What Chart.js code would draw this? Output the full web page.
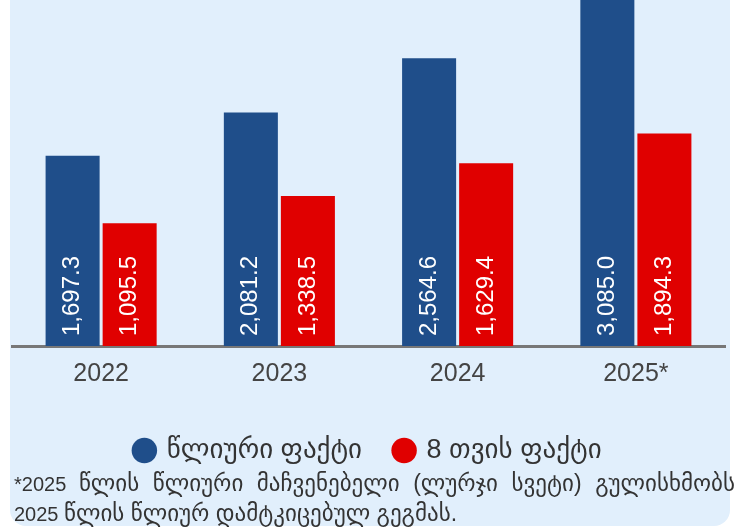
<!DOCTYPE html>
<html>
<head>
<meta charset="utf-8">
<script src="https://cdn.jsdelivr.net/npm/chart.js@4.4.0/dist/chart.umd.min.js"></script>
<style>
  html, body { margin: 0; padding: 0; background: #ffffff; }
  body { width: 742px; height: 528px; position: relative; overflow: hidden; font-family: "Liberation Sans", Arial, "DejaVu Sans", sans-serif; }
  .fond { position: absolute; left: 10px; top: 0; width: 720px; height: 526px; background: #e1effc; border-radius: 0 0 16px 16px; }
  .graph { position: absolute; left: 0; top: 0; width: 742px; height: 474px; }
  .note { position: absolute; left: 14px; width: 721px; font-size: 20px; line-height: 30px; color: #333; white-space: nowrap; }
  .note .ka { font-size: 23px; }
  .l1 { top: 468px; text-align: justify; text-align-last: justify; white-space: normal; }
  .l2 { top: 498px; }
</style>
</head>
<body>
<div class="fond"></div>
<div class="graph"><canvas id="monGraphique"></canvas></div>
<div class="note l1">*2025 <span class="ka">წლის წლიური მაჩვენებელი (ლურჯი სვეტი) გულისხმობს</span></div>
<div class="note l2">2025 <span class="ka">წლის წლიურ დამტკიცებულ გეგმას.</span></div>
<script>
// Données
const annees = ['2022', '2023', '2024', '2025*'];
const factAnnuel = [1697.3, 2081.2, 2564.6, 3085.0];
const fact8Mois = [1095.5, 1338.5, 1629.4, 1894.3];
const legendes = ['წლიური ფაქტი', '8 თვის ფაქტი'];

// Valeurs écrites à la verticale dans les barres
const etiquettes = {
    id: 'etiquettes',
    afterDatasetsDraw(chart) {
        const ctx = chart.ctx;
        chart.data.datasets.forEach(function(ds, i) {
            chart.getDatasetMeta(i).data.forEach(function(bar, j) {
                const txt = ds.data[j].toLocaleString('en-US', { minimumFractionDigits: 1, maximumFractionDigits: 1 });
                ctx.save();
                ctx.translate(bar.x, bar.base - 10);
                ctx.rotate(-Math.PI / 2);
                ctx.fillStyle = '#ffffff';
                ctx.font = '24px "Liberation Sans", Arial, sans-serif';
                ctx.textAlign = 'left';
                ctx.textBaseline = 'middle';
                ctx.fillText(txt, 0, 0);
                ctx.restore();
            });
        });
    }
};

const ctx = document.getElementById('monGraphique').getContext('2d');
new Chart(ctx, {
    type: 'bar',
    data: {
        labels: annees,
        datasets: [{
            label: legendes[0],
            data: factAnnuel,
            backgroundColor: '#1f4e8a'
        }, {
            label: legendes[1],
            data: fact8Mois,
            backgroundColor: '#e00000'
        }]
    },
    options: {
        responsive: true,
        maintainAspectRatio: false,
        animation: false,
        categoryPercentage: 0.64,
        barPercentage: 0.947,
        layout: { padding: { left: 12, right: 17, top: 0, bottom: 0 } },
        plugins: {
            tooltip: { enabled: false },
            legend: {
                position: 'bottom',
                labels: {
                    usePointStyle: true,
                    pointStyle: 'circle',
                    boxWidth: 18,
                    boxHeight: 18,
                    padding: 33,
                    color: '#333',
                    font: { size: 27, family: '"Liberation Sans", Arial, "DejaVu Sans", sans-serif' }
                }
            }
        },
        scales: {
            x: {
                grid: { display: false },
                border: { display: true, color: '#777', width: 3 },
                ticks: { color: '#444', padding: 5, font: { size: 25, family: '"Liberation Sans", Arial, sans-serif' } },
                afterFit: function(axis) { axis.height = 58; }
            },
            y: {
                display: false,
                min: 0,
                max: 3085
            }
        }
    },
    plugins: [etiquettes]
});
</script>
</body>
</html>
